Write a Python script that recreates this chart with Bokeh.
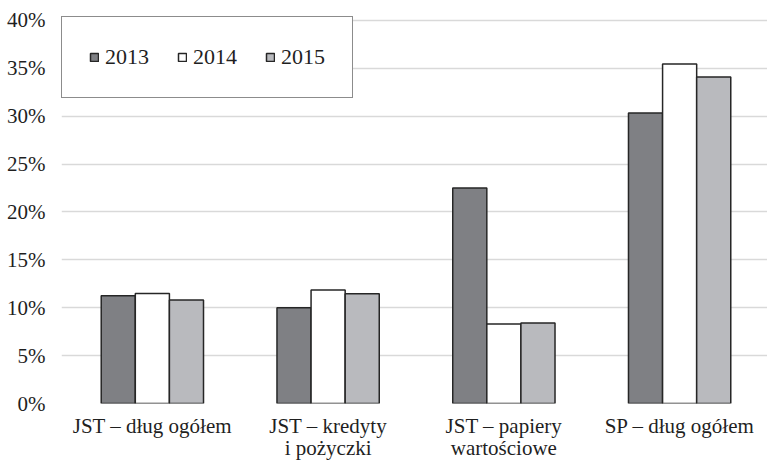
from bokeh.plotting import figure
from bokeh.models import (ColumnDataSource, FixedTicker, NumeralTickFormatter,
                          Legend, LegendItem)
from bokeh.embed import file_html
from bokeh.resources import INLINE

# Debt categories and shares per year
categories = ["JST – dług ogółem", "JST – kredyty\ni pożyczki",
              "JST – papiery\nwartościowe", "SP – dług ogółem"]
years = ["2013", "2014", "2015"]
v2013 = [0.1125, 0.100, 0.225, 0.3035]
v2014 = [0.115, 0.1185, 0.083, 0.3545]
v2015 = [0.108, 0.1145, 0.084, 0.341]
y_ticks = [0.0, 0.05, 0.10, 0.15, 0.20, 0.25, 0.30, 0.35, 0.40]

colors = ["#7f8084", "#ffffff", "#b9babe"]
series = [v2013, v2014, v2015]

SERIF = "Liberation Serif"
TEXT = "#1f1f1f"

centers = [i + 0.5 for i in range(len(categories))]
bar_w = 0.194
offsets = [-bar_w, 0.0, bar_w]

# frame reaches a few pixels past the 0-40% band so the legend box fits inside it
p = figure(width=767, height=463, output_backend="svg", toolbar_location=None,
           x_range=(-0.017, len(categories)), y_range=(0, 0.40417),
           min_border_left=61, min_border_right=0, min_border_top=16,
           min_border_bottom=59)
p.outline_line_color = None
p.background_fill_color = "white"
p.border_fill_color = "white"

renderers = []
for vals, off, col in zip(series, offsets, colors):
    src = ColumnDataSource(dict(x=[c + off for c in centers], top=vals))
    r = p.vbar(x="x", top="top", width=bar_w, bottom=0, source=src,
               fill_color=col, line_color="#262626", line_width=1.5)
    renderers.append(r)

# y axis: percent labels, no axis line or ticks
p.yaxis.ticker = FixedTicker(ticks=y_ticks)
p.yaxis.formatter = NumeralTickFormatter(format="0%")
p.yaxis.axis_line_color = None
p.yaxis.major_tick_line_color = None
p.yaxis.minor_tick_line_color = None
p.yaxis.major_tick_out = 0
p.yaxis.major_tick_in = 0
p.yaxis.minor_tick_out = 0
p.yaxis.major_label_text_font = SERIF
p.yaxis.major_label_text_font_size = "21px"
p.yaxis.major_label_text_color = TEXT
p.yaxis.major_label_standoff = 16

# x axis: category names at group centres
p.xaxis.ticker = FixedTicker(ticks=centers)
p.xaxis.major_label_overrides = {c: lab for c, lab in zip(centers, categories)}
p.xaxis.axis_line_color = None
p.xaxis.major_tick_line_color = None
p.xaxis.minor_tick_line_color = None
p.xaxis.major_tick_out = 0
p.xaxis.major_tick_in = 0
p.xaxis.minor_tick_out = 0
p.xaxis.major_label_text_font = SERIF
p.xaxis.major_label_text_font_size = "21px"
p.xaxis.major_label_text_line_height = 0.95
p.xaxis.major_label_text_color = TEXT
p.xaxis.major_label_standoff = 10

p.xgrid.grid_line_color = None
p.ygrid.grid_line_color = "#d9d9d9"
p.ygrid.grid_line_width = 1.5

legend = Legend(items=[LegendItem(label=y, renderers=[r]) for y, r in zip(years, renderers)],
                orientation="horizontal", location="top_left",
                border_line_color="#1a1a1a", border_line_width=1.2,
                background_fill_color="white", background_fill_alpha=1.0,
                glyph_width=10, glyph_height=10, label_standoff=6,
                label_text_font=SERIF, label_text_font_size="22px",
                label_text_color=TEXT, label_height=20,
                padding=27, spacing=28, margin=0)
p.add_layout(legend, "center")

open("out.html", "w").write(file_html(p, INLINE))
